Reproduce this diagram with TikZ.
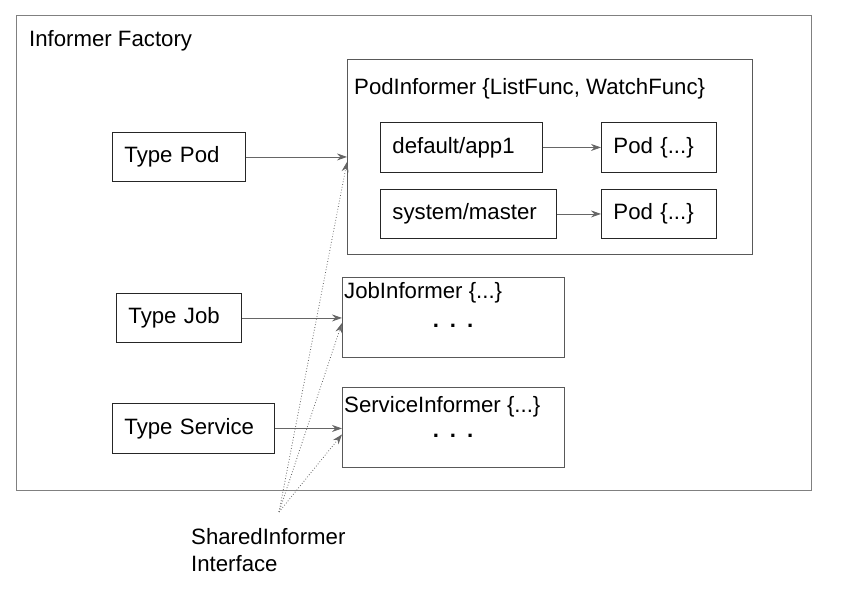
\documentclass[tikz,border=0pt]{standalone}
\usepackage{fontspec}
\setmainfont{Liberation Sans}
\usetikzlibrary{arrows.meta, calc}
\tikzstyle{factory} = [rectangle, anchor=north west, inner sep=0pt, draw=black!50, line width=0.8pt]
\tikzstyle{informer} = [rectangle, anchor=north west, inner sep=0pt, draw=black!65, line width=0.8pt]
\tikzstyle{entry} = [rectangle, anchor=north west, minimum height=49pt, inner xsep=12pt, align=left, draw=black!85, line width=0.9pt]
\tikzstyle{title} = [anchor=north west, inner sep=0pt]
\tikzstyle{arrow} = [-{Stealth[length=10pt,width=7pt]}, draw=black!60, line width=0.8pt]
\tikzstyle{shared} = [-{Stealth[length=10pt,width=7pt]}, draw=black!60, line width=0.8pt, dotted]

\begin{document}
\begin{tikzpicture}[x=1pt, y=-1pt, font=\fontsize{22.2}{27}\selectfont]
		\useasboundingbox (0,0) rectangle (841,593);
		% factory frame
		\node (factory) [factory, minimum width=795pt, minimum height=475pt] at (16,15) {};
		\node (factorytitle) [title] at (29,30) {Informer Factory};
		
		% informers
		\node (podinf) [informer, minimum width=405pt, minimum height=195pt] at (347,59) {};
		\node (podtitle) [title] at (354,78) {PodInformer \{ListFunc, WatchFunc\}};
		\node (jobinf) [informer, minimum width=222pt, minimum height=80pt] at (342,277) {};
		\node (jobtitle) [title] at (344,282) {JobInformer \{...\}};
		\node (jobdots) at (453,326) {\textbf{.\hspace{11pt}.\hspace{11pt}.}};
		\node (svcinf) [informer, minimum width=222pt, minimum height=80pt] at (342,387) {};
		\node (svctitle) [title] at (344,396) {ServiceInformer \{...\}};
		\node (svcdots) at (453,436) {\textbf{.\hspace{11pt}.\hspace{11pt}.}};
		
		% indexer entries
		\node (app1) [entry, text width=138pt, minimum height=50pt] at (380,122) {default/app1};
		\node (pod1) [entry, text width=91pt, minimum height=50pt] at (601,122) {Pod \{...\}};
		\node (master) [entry, text width=152pt] at (380,189) {system/master};
		\node (pod2) [entry, text width=91pt] at (601,189) {Pod \{...\}};
		
		% types
		\node (typepod) [entry, text width=109pt] at (112,132) {Type Pod};
		\node (typejob) [entry, text width=101pt] at (116,293) {Type Job};
		\node (typesvc) [entry, text width=138pt, minimum height=50pt] at (112,403) {Type Service};
		
		\node (iface) [title, align=left] at (191,528) {SharedInformer\\Interface};
		\coordinate (ifacesrc) at (279,512);
		
		\draw [arrow] (app1) -- (pod1);
		\draw [arrow] (master) -- (pod2);
		\draw [arrow] (typepod.east) -- (typepod.east -| podinf.west);
		\draw [arrow] (typejob.east) -- (typejob.east -| jobinf.west);
		\draw [arrow] (typesvc.east) -- (typesvc.east -| svcinf.west);
		
		\draw [shared] (ifacesrc) -- ($(typepod.east -| podinf.west)+(0,5)$);
		\draw [shared] (ifacesrc) -- ($(typejob.east -| jobinf.west)+(0,5)$);
		\draw [shared] (ifacesrc) -- ($(typesvc.east -| svcinf.west)+(0,6)$);
	\end{tikzpicture}
\end{document}
